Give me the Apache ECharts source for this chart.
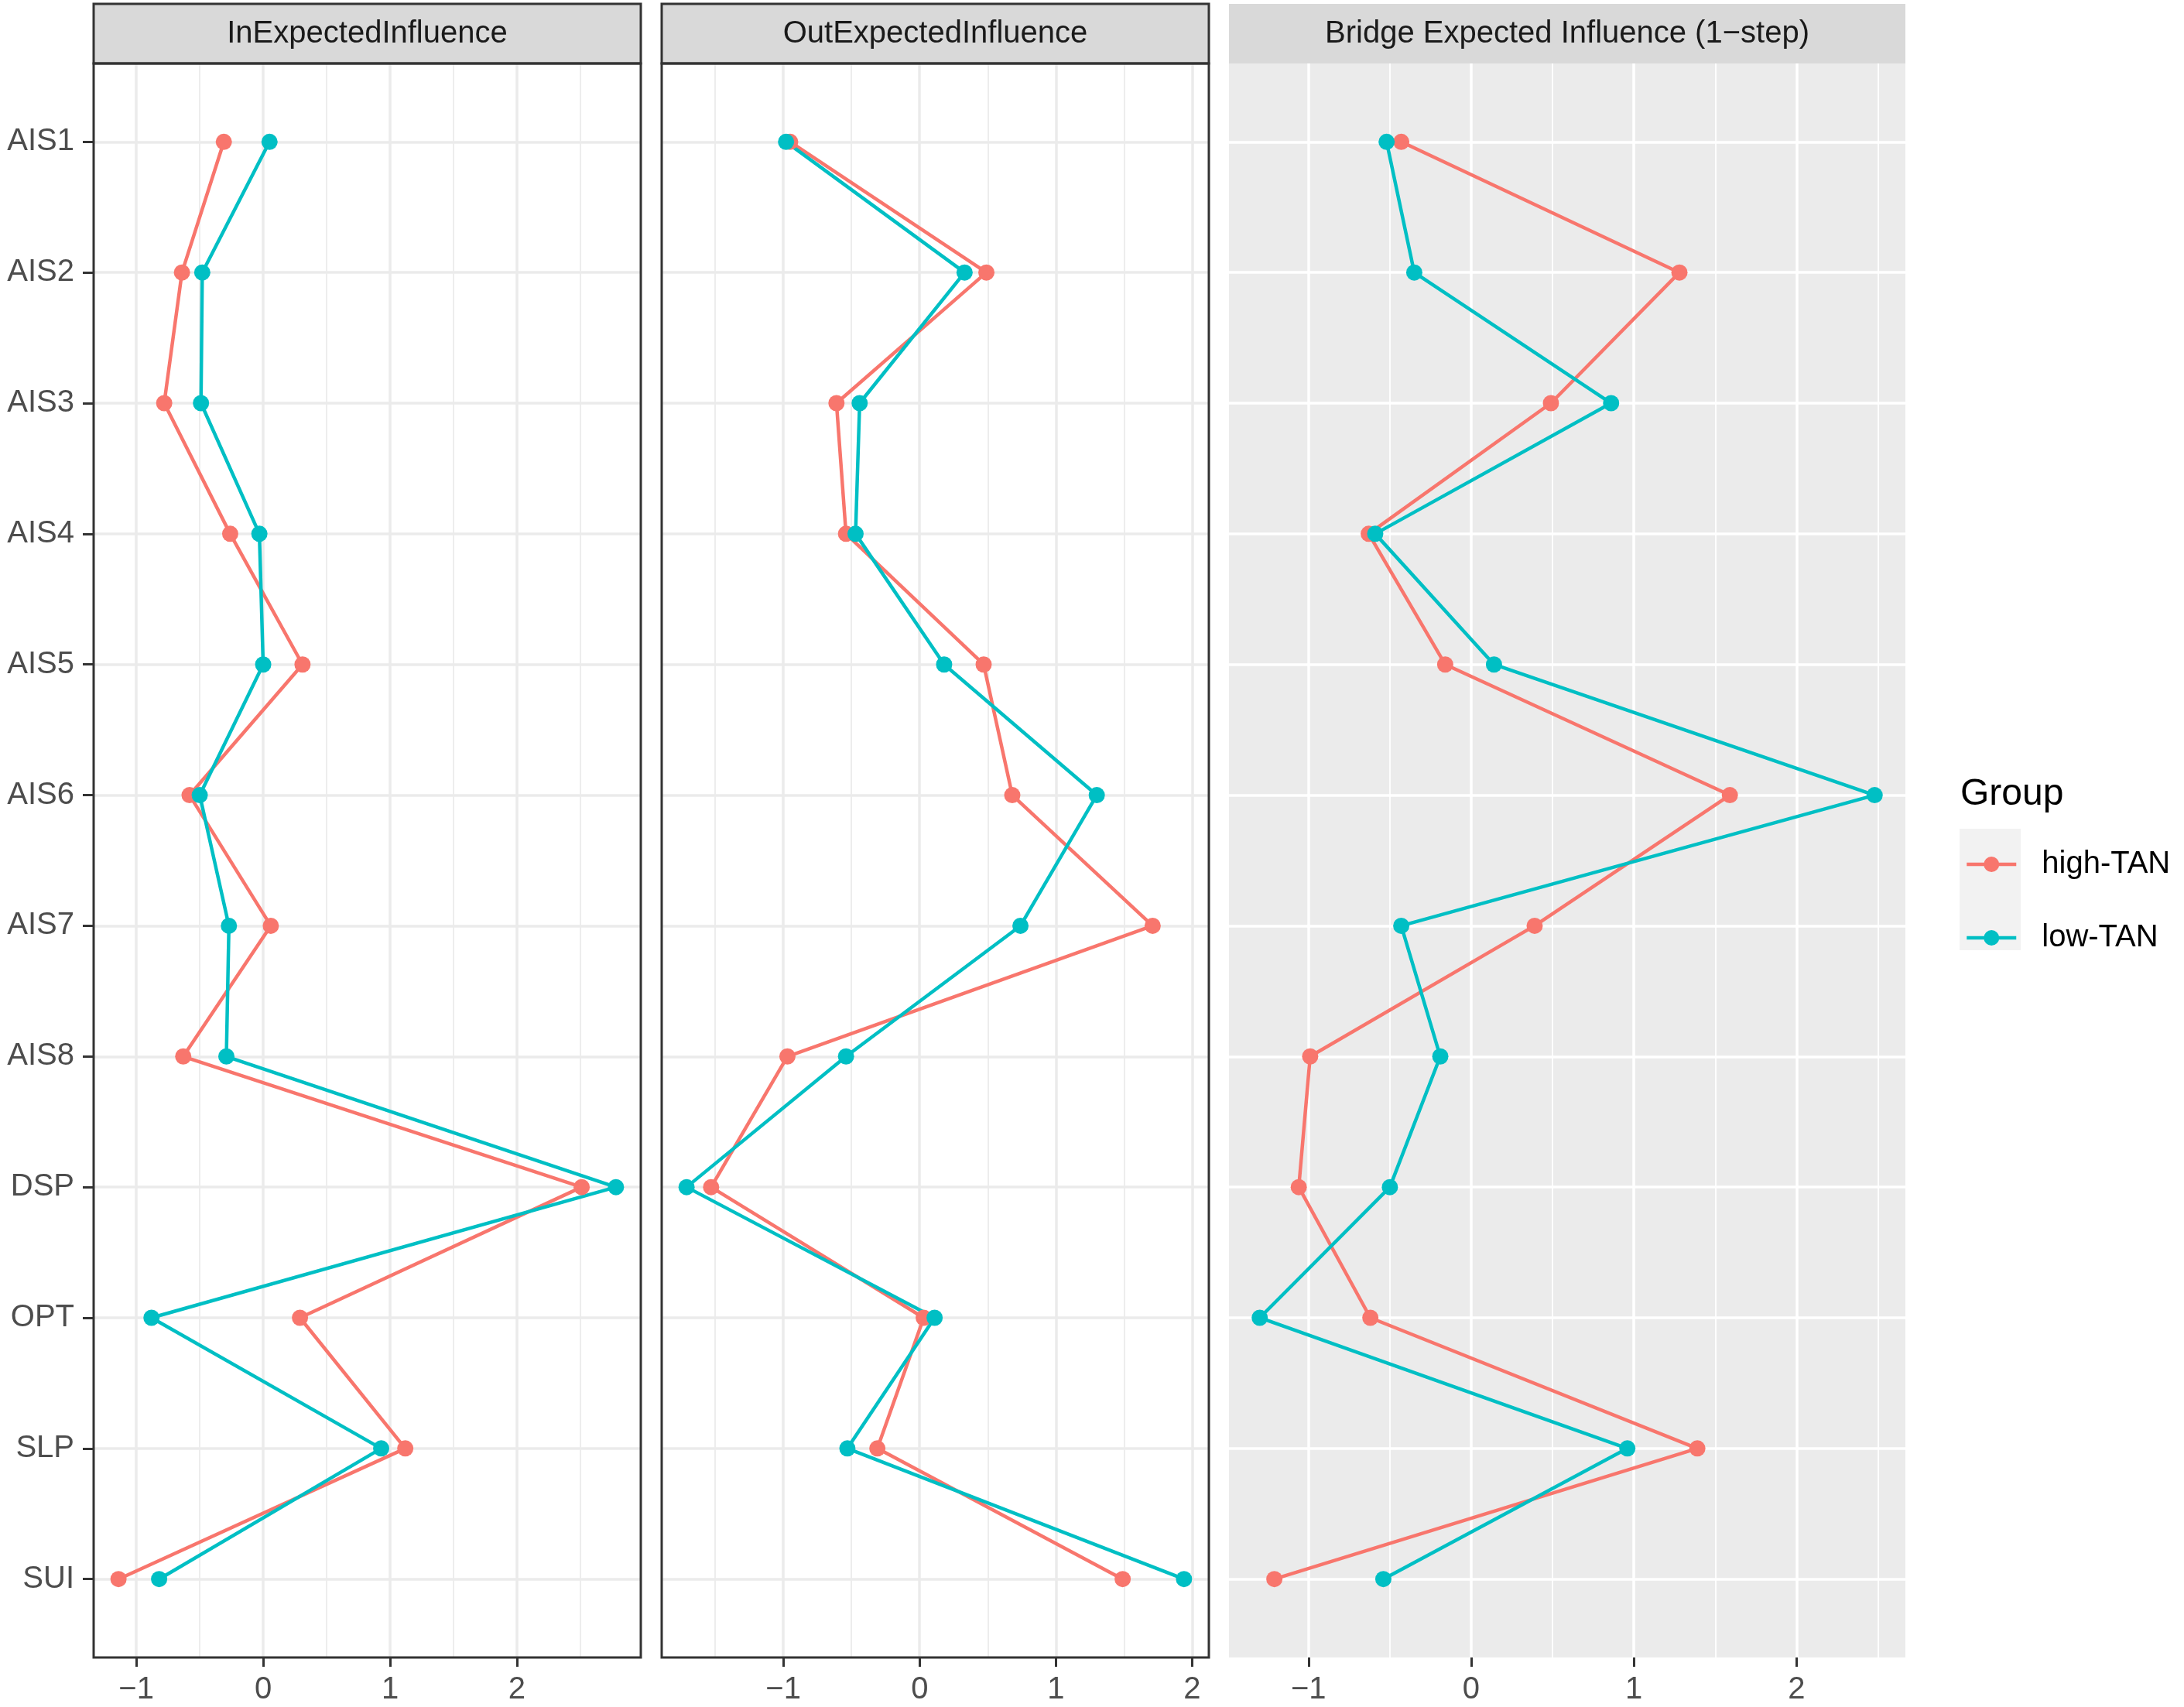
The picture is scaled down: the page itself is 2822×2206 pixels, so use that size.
<!DOCTYPE html>
<html>
<head>
<meta charset="utf-8">
<title>Expected influence by TAN group</title>
<script src="https://cdn.jsdelivr.net/npm/echarts@6/dist/echarts.min.js"></script>
<style>
    html, body { margin: 0; padding: 0; background: #fff; }
    #chart { width: 2822px; height: 2206px; }
</style>
</head>
<body>
<div id="chart"></div>
<script>
var nodes = ['AIS1', 'AIS2', 'AIS3', 'AIS4', 'AIS5', 'AIS6', 'AIS7', 'AIS8', 'DSP', 'OPT', 'SLP', 'SUI'];
var groups = ['high-TAN', 'low-TAN'];

var inHigh = [-0.31, -0.64, -0.78, -0.26, 0.31, -0.58, 0.06, -0.63, 2.51, 0.29, 1.12, -1.14];
var inLow = [0.05, -0.48, -0.49, -0.03, 0.00, -0.50, -0.27, -0.29, 2.78, -0.88, 0.93, -0.82];
var outHigh = [-0.95, 0.49, -0.61, -0.54, 0.47, 0.68, 1.71, -0.97, -1.53, 0.03, -0.31, 1.49];
var outLow = [-0.98, 0.33, -0.44, -0.47, 0.18, 1.30, 0.74, -0.54, -1.71, 0.11, -0.53, 1.94];
var bridgeHigh = [-0.43, 1.28, 0.49, -0.63, -0.16, 1.59, 0.39, -0.99, -1.06, -0.62, 1.39, -1.21];
var bridgeLow = [-0.52, -0.35, 0.86, -0.59, 0.14, 2.48, -0.43, -0.19, -0.50, -1.30, 0.96, -0.54];

var majorTicks = [-1, 0, 1, 2];
var minorTicks = [-1.5, -0.5, 0.5, 1.5, 2.5];

var colors = ['#F8766D', '#00BFC4'];
var FONT = '"Liberation Sans", Arial, Helvetica, sans-serif';
var TOP = 82, BOTTOM = 2142;
var LINE_W = 4.5, DOT = 21;

var panels = [
    {title: 'InExpectedInfluence', high: inHigh, low: inLow, left: 121, width: 707, bw: true, yLabels: true},
    {title: 'OutExpectedInfluence', high: outHigh, low: outLow, left: 855, width: 707, bw: true, yLabels: false},
    {title: 'Bridge Expected Influence (1\u2212step)', high: bridgeHigh, low: bridgeLow, left: 1588, width: 874, bw: false, yLabels: false}
];

// ggplot style: data range expanded by 5% on each side
function expand(a, b) {
    var all = a.concat(b),
        lo = Math.min.apply(null, all),
        hi = Math.max.apply(null, all),
        pad = (hi - lo) * 0.05;
    return [lo - pad, hi + pad];
}

function inside(vals, r) {
    return vals.filter(function(v) { return v >= r[0] && v <= r[1]; });
}

function minus(v) {
    return String(v).replace('-', '\u2212');
}

var yPos = nodes.map(function(n, i) { return i + 1; });

var grids = [], xAxes = [], yAxes = [], series = [], graphics = [];

panels.forEach(function(p, i) {
    var r = expand(p.high, p.low),
        gridColor = p.bw ? '#EBEBEB' : '#FFFFFF',
        major = inside(majorTicks, r),
        minor = inside(minorTicks, r);

    grids.push({
        left: p.left,
        top: TOP,
        width: p.width,
        height: BOTTOM - TOP,
        show: true,
        backgroundColor: p.bw ? '#FFFFFF' : '#EBEBEB',
        borderWidth: 0
    });

    xAxes.push({
        type: 'value',
        gridIndex: i,
        position: 'bottom',
        min: r[0],
        max: r[1],
        axisLine: {show: false, onZero: false},
        axisTick: {
            show: true,
            length: 12,
            customValues: major,
            lineStyle: {color: '#333333', width: 3}
        },
        axisLabel: {
            customValues: major,
            margin: 22,
            fontSize: 40,
            fontFamily: FONT,
            color: '#4D4D4D',
            formatter: minus
        },
        splitLine: {show: true, lineStyle: {color: gridColor, width: 3.5}}
    });
    xAxes.push({
        type: 'value',
        gridIndex: i,
        position: 'bottom',
        min: r[0],
        max: r[1],
        axisLine: {show: false, onZero: false},
        axisTick: {show: false, customValues: minor},
        axisLabel: {show: false, customValues: minor},
        splitLine: {show: true, lineStyle: {color: gridColor, width: 1.8}}
    });

    yAxes.push({
        type: 'value',
        gridIndex: i,
        position: 'left',
        inverse: true,
        min: 1 - 0.6,
        max: nodes.length + 0.6,
        axisLine: {show: false, onZero: false},
        axisTick: {
            show: p.yLabels,
            length: 14,
            customValues: yPos,
            lineStyle: {color: '#333333', width: 3}
        },
        axisLabel: {
            show: p.yLabels,
            customValues: yPos,
            margin: 25,
            fontSize: 40,
            fontFamily: FONT,
            color: '#4D4D4D',
            formatter: function(v) { return nodes[Math.round(v) - 1]; }
        },
        splitLine: {show: true, lineStyle: {color: gridColor, width: 3.5}}
    });

    // lines first, points on top of every line
    [p.high, p.low].forEach(function(vals, g) {
        series.push({
            name: groups[g],
            type: 'line',
            xAxisIndex: i * 2,
            yAxisIndex: i,
            data: vals.map(function(v, k) { return [v, yPos[k]]; }),
            symbol: 'none',
            lineStyle: {color: colors[g], width: LINE_W},
            itemStyle: {color: colors[g]},
            z: 2
        });
    });
    [p.high, p.low].forEach(function(vals, g) {
        series.push({
            name: groups[g],
            type: 'scatter',
            xAxisIndex: i * 2,
            yAxisIndex: i,
            data: vals.map(function(v, k) { return [v, yPos[k]]; }),
            symbol: 'circle',
            symbolSize: DOT,
            itemStyle: {color: colors[g], opacity: 1},
            z: 3
        });
    });

    // facet strip
    graphics.push({
        type: 'rect',
        silent: true,
        z: 10,
        shape: {x: p.left, y: 5, width: p.width, height: TOP - 5},
        style: {fill: '#D9D9D9', stroke: p.bw ? '#333333' : null, lineWidth: 3}
    });
    graphics.push({
        type: 'text',
        silent: true,
        z: 11,
        x: p.left + p.width / 2,
        y: (5 + TOP) / 2,
        style: {
            text: p.title,
            fontSize: 40,
            fontFamily: FONT,
            fill: '#1A1A1A',
            align: 'center',
            verticalAlign: 'middle'
        }
    });
    if (p.bw) {
        graphics.push({
            type: 'rect',
            silent: true,
            z: 10,
            shape: {x: p.left, y: TOP, width: p.width, height: BOTTOM - TOP},
            style: {fill: 'transparent', stroke: '#333333', lineWidth: 3}
        });
    }
});

// legend title and key background
graphics.push({
    type: 'text',
    silent: true,
    x: 2533,
    y: 1027,
    style: {
        text: 'Group',
        fontSize: 48,
        fontFamily: FONT,
        fill: '#000000',
        align: 'left',
        verticalAlign: 'middle'
    }
});
graphics.push({
    type: 'rect',
    silent: true,
    z: -1,
    shape: {x: 2532, y: 1071, width: 79, height: 157},
    style: {fill: '#F2F2F2'}
});

var chart = echarts.init(document.getElementById('chart'));
chart.setOption({
    backgroundColor: '#FFFFFF',
    animation: false,
    grid: grids,
    xAxis: xAxes,
    yAxis: yAxes,
    legend: {
        data: groups.map(function(g, k) {
            return {
                name: g,
                itemStyle: {color: colors[k]},
                lineStyle: {color: colors[k], width: LINE_W}
            };
        }),
        orient: 'vertical',
        left: 2539,
        top: 1097,
        padding: 0,
        itemWidth: 64,
        itemHeight: 25,
        itemGap: 55,
        textStyle: {
            fontSize: 40,
            fontFamily: FONT,
            color: '#000000',
            padding: [0, 0, 0, 28]
        }
    },
    graphic: graphics,
    series: series
});
</script>
</body>
</html>
